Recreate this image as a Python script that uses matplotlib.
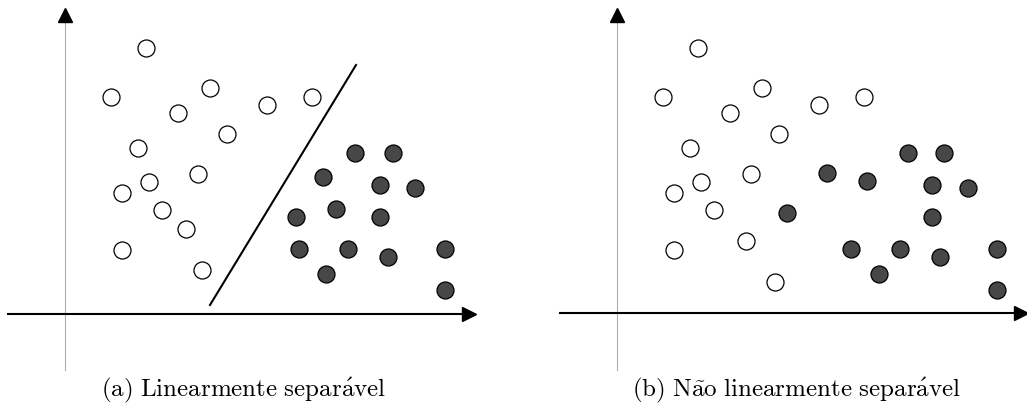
import numpy as np
import matplotlib.pyplot as plt

plt.rcParams['mathtext.fontset'] = 'cm'

# pontos (x, y) relativos à origem dos eixos, em unidades de pixel
a_aberto_x = [81, 46, 145, 113, 202, 247, 162, 73, 84, 133, 57, 97, 121, 57, 137]
a_aberto_y = [266, 217, 226, 201, 209, 217, 180, 166, 132, 140, 121, 104, 85, 64, 44]
a_cheio_x = [290, 328, 258, 315, 350, 231, 271, 315, 234, 283, 323, 380, 261, 380]
a_cheio_y = [161, 161, 137, 129, 126, 97, 105, 97, 65, 65, 57, 65, 40, 24]
a_reta_x = [145, 291]
a_reta_y = [9, 249]

b_aberto_x = [81, 46, 145, 113, 202, 247, 162, 73, 84, 134, 57, 97, 129, 57, 158]
b_aberto_y = [265, 216, 225, 200, 208, 216, 179, 165, 131, 139, 120, 103, 72, 63, 31]
b_cheio_x = [291, 327, 210, 250, 315, 351, 170, 315, 234, 283, 323, 380, 262, 380]
b_cheio_y = [160, 160, 140, 132, 128, 125, 100, 96, 64, 64, 56, 64, 39, 23]

legendas = [r'$\mathrm{(a)\ Linearmente\ separ\acute{a}vel}$',
            r'$\mathrm{(b)\ N\tilde{a}o\ linearmente\ separ\acute{a}vel}$']

fig = plt.figure(figsize=(10.27, 4.05), dpi=100)
W, H = 1027, 405

def painel(px0, px1, ox, oy, x_ini, x_fim, aberto, cheio, legenda, reta=None):
    ax = fig.add_axes([px0 / W, 0, (px1 - px0) / W, 1])
    ax.set_xlim(px0 - ox, px1 - ox)
    ax.set_ylim(oy - H, oy)
    ax.axis('off')

    # eixo y: linha cinza fina com ponta preta
    ax.plot([0, 0], [oy - 370, oy - 20], color='#b0b0b0', lw=0.8, zorder=1)
    ax.plot(0, oy - 15, marker='^', ms=10, color='black', zorder=2)
    # eixo x: linha preta com ponta
    ax.plot([x_ini - ox, x_fim - ox - 8], [0, 0], color='black', lw=1.5, zorder=1)
    ax.plot(x_fim - ox - 6, 0, marker='>', ms=10, color='black', zorder=2)

    if reta is not None:
        ax.plot(reta[0], reta[1], color='black', lw=1.5)

    ax.scatter(aberto[0], aberto[1], s=150, facecolor='white',
               edgecolor='black', lw=0.9, zorder=3)
    ax.scatter(cheio[0], cheio[1], s=150, facecolor='#474747',
               edgecolor='black', lw=0.9, zorder=3)

    ax.text((px1 + px0) / 2 - ox + legenda[1], oy - 390, legenda[0],
            ha='center', va='center', fontsize=18)
    return ax

painel(0, 490, 65, 314, 8, 475, (a_aberto_x, a_aberto_y),
       (a_cheio_x, a_cheio_y), (legendas[0], 244 - 245), (a_reta_x, a_reta_y))
painel(540, 1027, 617, 313, 560, 1027, (b_aberto_x, b_aberto_y),
       (b_cheio_x, b_cheio_y), (legendas[1], 796 - 783.5))

fig.savefig('out.png', dpi=100)
